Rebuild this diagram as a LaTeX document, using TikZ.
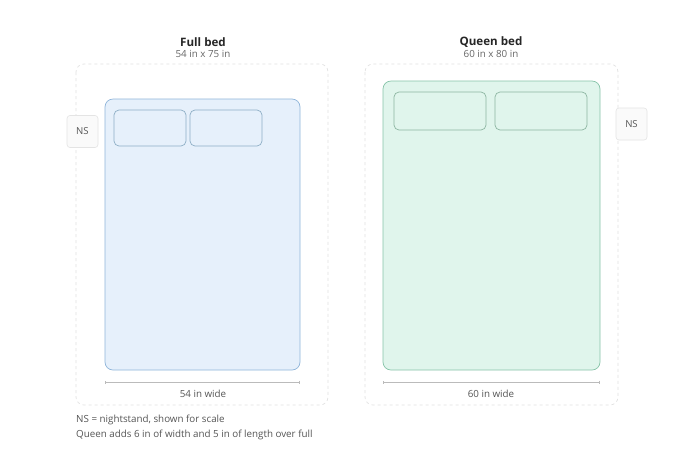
\documentclass[tikz,border=0pt]{standalone}
\usepackage{fontspec}
\setmainfont{Open Sans}
\usetikzlibrary{arrows.meta}
\definecolor{fullfill}{HTML}{E6F0FB}
\definecolor{fulldraw}{HTML}{8FB5DA}
\definecolor{fullpil}{HTML}{8EAEC6}
\definecolor{qfill}{HTML}{E0F5EC}
\definecolor{qdraw}{HTML}{86C4A8}
\definecolor{qpil}{HTML}{8DB5A2}
\definecolor{dashc}{HTML}{E2E2E2}
\definecolor{nsdraw}{HTML}{E4E4E4}
\definecolor{nsfill}{HTML}{FAFAFA}
\definecolor{txt}{HTML}{555555}
\definecolor{dimc}{HTML}{BBBBBB}
\tikzset{
  x=1pt,y=-1pt,
  area/.style={draw=dashc,dashed,dash pattern=on 3pt off 3pt,rounded corners=8pt,line width=0.7pt},
  fullbed/.style={draw=fulldraw,fill=fullfill,rounded corners=8pt,line width=0.7pt},
  fullpillow/.style={draw=fullpil,fill=fullfill,rounded corners=5pt,line width=0.7pt},
  qbed/.style={draw=qdraw,fill=qfill,rounded corners=8pt,line width=0.7pt},
  qpillow/.style={draw=qpil,fill=qfill,rounded corners=5pt,line width=0.7pt},
  nsbox/.style={draw=nsdraw,fill=nsfill,rounded corners=3pt,line width=0.6pt,minimum width=31pt,minimum height=32pt,font=\fontsize{9.6}{11}\selectfont,text=txt,inner sep=0pt},
  ttl/.style={font=\bfseries\fontsize{11.6}{13}\selectfont,text=black!85,inner sep=0pt},
  sub/.style={font=\fontsize{9.8}{11}\selectfont,text=txt!90,inner sep=0pt},
  lbl/.style={font=\fontsize{9.8}{11}\selectfont,text=txt,inner sep=0pt},
  note/.style={font=\fontsize{9.8}{11}\selectfont,text=txt,inner sep=0pt,anchor=west},
  dim/.style={draw=dimc,line width=0.6pt,{Bar[width=3pt]}-{Bar[width=3pt]}}
}
\begin{document}
\begin{tikzpicture}
\useasboundingbox (0,0) rectangle (696,451);
\fill[white] (0,0) rectangle (696,451);
% Full bed
\draw[area] (76,64) rectangle (328,405);
\node[ttl] (ft) at (203,42) {Full bed};
\node[sub] (fs) at (203,53.5) {54 in x 75 in};
\draw[fullbed] (105,99) rectangle (300,370);
\draw[fullpillow] (114,110) rectangle (186,146);
\draw[fullpillow] (190,110) rectangle (262,146);
\node[nsbox] (ns1) at (82.5,131.5) {NS};
\coordinate (fl) at (105,382);
\coordinate (fr) at (300,382);
\draw[dim] (fl) -- (fr);
\node[lbl] (fw) at (203,393.5) {54 in wide};
% Queen bed
\draw[area] (365,64) rectangle (618,405);
\node[ttl] (qt) at (491,42) {Queen bed};
\node[sub] (qs) at (491,53.5) {60 in x 80 in};
\draw[qbed] (383,81) rectangle (600,370);
\draw[qpillow] (394,92) rectangle (486,130);
\draw[qpillow] (495,92) rectangle (587,130);
\node[nsbox] (ns2) at (631.5,124) {NS};
\coordinate (ql) at (383,382);
\coordinate (qr) at (600,382);
\draw[dim] (ql) -- (qr);
\node[lbl] (qw) at (491,393.5) {60 in wide};
% notes
\node[note] (n1) at (76,420) {NS = nightstand, shown for scale};
\node[note] (n2) at (76,435) {Queen adds 6 in of width and 5 in of length over full};
\end{tikzpicture}
\end{document}
